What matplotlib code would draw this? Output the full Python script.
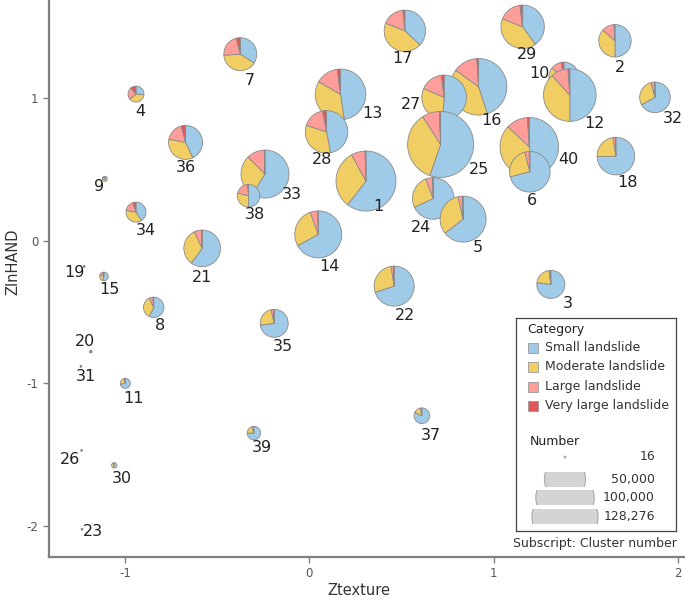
import matplotlib
matplotlib.use("Agg")
import matplotlib.pyplot as plt
import matplotlib.transforms as mtransforms
from matplotlib.patches import Wedge, Circle, Rectangle
import numpy as np

plt.rcParams["axes.unicode_minus"] = False

# cluster data
cluster = [1, 2, 3, 4, 5, 6, 7, 8, 9, 10,
           11, 12, 13, 14, 15, 16, 17, 18, 19, 20,
           21, 22, 23, 24, 25, 26, 27, 28, 29, 30,
           31, 32, 33, 34, 35, 36, 37, 38, 39, 40]
ztexture = [0.307, 1.658, 1.310, -0.941, 0.834, 1.196, -0.375, -0.845, -1.110, 1.381,
            -0.999, 1.413, 0.169, 0.048, -1.115, 0.918, 0.518, 1.663, -1.222, -1.186,
            -0.582, 0.460, -1.234, 0.672, 0.712, -1.236, 0.731, 0.093, 1.157, -1.059,
            -1.240, 1.875, -0.241, -0.941, -0.191, -0.672, 0.610, -0.330, -0.301, 1.193]
zlnhand = [0.419, 1.403, -0.306, 1.029, 0.152, 0.484, 1.309, -0.467, 0.435, 1.148,
           -1.000, 1.022, 1.027, 0.045, -0.250, 1.080, 1.473, 0.594, -0.180, -0.778,
           -0.053, -0.318, -2.024, 0.297, 0.676, -1.470, 1.006, 0.764, 1.501, -1.575,
           -0.881, 1.006, 0.468, 0.201, -0.579, 0.690, -1.227, 0.316, -1.349, 0.659]
number = [106000, 30900, 23100, 7500, 62300, 48500, 32000, 12300, 740, 26500,
          2950, 81500, 75400, 65000, 2180, 94300, 50500, 41600, 60, 200,
          39500, 47100, 80, 51000, 128276, 60, 58600, 53400, 55500, 860,
          60, 27600, 67900, 11800, 23100, 34000, 7200, 15000, 5300, 101100]
small = [0.605, 0.50, 0.77, 0.26, 0.645, 0.71, 0.34, 0.57, 0.40, 0.50,
         0.72, 0.50, 0.477, 0.67, 0.55, 0.45, 0.37, 0.745, 0.6, 0.6,
         0.60, 0.70, 0.6, 0.68, 0.553, 0.6, 0.51, 0.47, 0.40, 0.6,
         0.6, 0.67, 0.59, 0.41, 0.73, 0.43, 0.82, 0.50, 0.75, 0.47]
moderate = [0.315, 0.365, 0.21, 0.38, 0.32, 0.25, 0.40, 0.36, 0.30, 0.35,
            0.23, 0.383, 0.357, 0.275, 0.25, 0.40, 0.44, 0.23, 0.3, 0.3,
            0.33, 0.275, 0.3, 0.26, 0.356, 0.3, 0.305, 0.33, 0.41, 0.3,
            0.3, 0.29, 0.285, 0.37, 0.235, 0.35, 0.15, 0.29, 0.20, 0.40]
large = [0.075, 0.125, 0.015, 0.25, 0.03, 0.035, 0.22, 0.06, 0.20, 0.12,
         0.05, 0.106, 0.145, 0.053, 0.15, 0.14, 0.175, 0.02, 0.1, 0.1,
         0.068, 0.02, 0.1, 0.055, 0.085, 0.1, 0.165, 0.17, 0.17, 0.1,
         0.1, 0.035, 0.12, 0.17, 0.03, 0.18, 0.03, 0.195, 0.05, 0.12]
very_large = [0.005, 0.01, 0.005, 0.11, 0.005, 0.005, 0.04, 0.01, 0.10, 0.03,
              0.0, 0.011, 0.021, 0.002, 0.05, 0.01, 0.015, 0.005, 0.0, 0.0,
              0.002, 0.005, 0.0, 0.005, 0.006, 0.0, 0.02, 0.03, 0.02, 0.0,
              0.0, 0.005, 0.005, 0.05, 0.005, 0.04, 0.0, 0.015, 0.0, 0.01]

categories = ["Small landslide", "Moderate landslide", "Large landslide", "Very large landslide"]
colors = ["#A0CBE8", "#F1CE63", "#FF9D9A", "#E15759"]
size_values = [16, 50000, 100000, 128276]
size_labels = ["16", "50,000", "100,000", "128,276"]

# label placement (pixels right / down from the pie centre)
label_offsets = {1: (12, 25), 2: (5, 27), 3: (17, 19), 4: (4, 17), 5: (15, 28),
                 6: (2, 29), 7: (10, 26), 8: (6, 18), 9: (-6, 8), 10: (-24, -4),
                 11: (8, 15), 12: (25, 28), 13: (32, 19), 14: (11, 32), 15: (6, 13),
                 16: (13, 34), 17: (-2, 28), 18: (12, 26), 19: (-10, 6), 20: (-6, -10),
                 21: (0, 29), 22: (11, 29), 23: (11, 2), 24: (-12, 29), 25: (38, 25),
                 26: (-12, 9), 27: (-33, 7), 28: (-4, 28), 29: (4, 28), 30: (8, 13),
                 31: (5, 10), 32: (18, 21), 33: (27, 20), 34: (10, 18), 35: (9, 23),
                 36: (0, 25), 37: (9, 20), 38: (6, 19), 39: (8, 14), 40: (39, 13)}

MAX_N = 128276
MAX_R = 33.0  # pixels
DPI = 100
W, H = 685, 603


def radius_px(n):
    return max(MAX_R * np.sqrt(n / MAX_N), 0.9)


fig = plt.figure(figsize=(W / DPI, H / DPI), dpi=DPI)
ax = fig.add_axes([49 / W, (H - 557) / H, (W - 49) / W, 557 / H])
ax.set_xlim(-1.413, 2.038)
ax.set_ylim(-2.218, 1.689)

grey = "#7f7f7f"
for s in ["top", "right"]:
    ax.spines[s].set_visible(False)
for s in ["left", "bottom"]:
    ax.spines[s].set_color(grey)
    ax.spines[s].set_linewidth(1.6)
ax.set_xticks([-1, 0, 1, 2])
ax.set_yticks([-2, -1, 0, 1])
ax.tick_params(colors=grey, labelcolor="#555555", labelsize=8.5, length=4, width=1)
ax.set_xlabel("Ztexture", fontsize=10.5, color="#333333")
ax.set_ylabel("ZlnHAND", fontsize=10.5, color="#333333", va="center")
ax.xaxis.set_label_coords((359 - 49) / 636, -0.047)
ax.yaxis.set_label_coords((13 - 49) / 636, 0.53)

# pies, lower clusters drawn on top
order = np.argsort(-np.array(zlnhand))
for z, i in enumerate(order):
    x, y = ztexture[i], zlnhand[i]
    r = radius_px(number[i]) / DPI
    trans = fig.dpi_scale_trans + mtransforms.ScaledTranslation(x, y, ax.transData)
    fr = [small[i], moderate[i], large[i], very_large[i]]
    fr = np.array(fr) / sum(fr)
    start = 90.0
    for f, c in zip(fr, colors):
        if f <= 0:
            continue
        end = start - 360 * f
        ax.add_patch(Wedge((0, 0), r, end, start, facecolor=c, edgecolor="#8a8a8a",
                           linewidth=0.6, transform=trans, zorder=3 + z, clip_on=False))
        start = end
    dx, dy = label_offsets[cluster[i]]
    ax.annotate(str(cluster[i]), (x, y), xytext=(dx * 0.72, -dy * 0.72),
                textcoords="offset points", ha="center", va="center",
                fontsize=11.5, color="#222222", zorder=100)

# legend box drawn in pixel units
lx0, ly0, lw, lh = 516, 318, 160, 213
lax = fig.add_axes([lx0 / W, (H - ly0 - lh) / H, lw / W, lh / H])
lax.set_xlim(0, lw)
lax.set_ylim(lh, 0)
lax.set_xticks([])
lax.set_yticks([])
for s in lax.spines.values():
    s.set_color("#444444")
    s.set_linewidth(0.9)
lax.set_zorder(200)

lax.text(11, 12, "Category", fontsize=9, color="#222222", va="center", ha="left")
for k, (cat, c) in enumerate(zip(categories, colors)):
    yy = [29.7, 49.0, 68.7, 87.7][k]
    lax.add_patch(Rectangle((12, yy - 5), 10, 10, facecolor=c, edgecolor="#999999", linewidth=0.6))
    lax.text(29, yy, cat, fontsize=9, color="#333333", va="center", ha="left")

lax.text(14, 123.7, "Number", fontsize=9, color="#222222", va="center", ha="left")
for k, (v, lab) in enumerate(zip(size_values, size_labels)):
    yy = [139.0, 161.0, 179.7, 198.7][k]
    clip = Rectangle((0, yy - 7.5), lw, 15, transform=lax.transData, visible=False)
    lax.add_patch(clip)
    circ = Circle((49, yy), radius_px(v), facecolor="#d4d4d4", edgecolor="#aaaaaa", linewidth=0.8)
    lax.add_patch(circ)
    circ.set_clip_path(clip)
    lax.text(139, yy, lab, fontsize=9, color="#333333", va="center", ha="right")

fig.text(677 / W, 1 - 543 / H, "Subscript: Cluster number", fontsize=9, color="#333333",
         ha="right", va="center")

fig.savefig("out.png", dpi=DPI)
